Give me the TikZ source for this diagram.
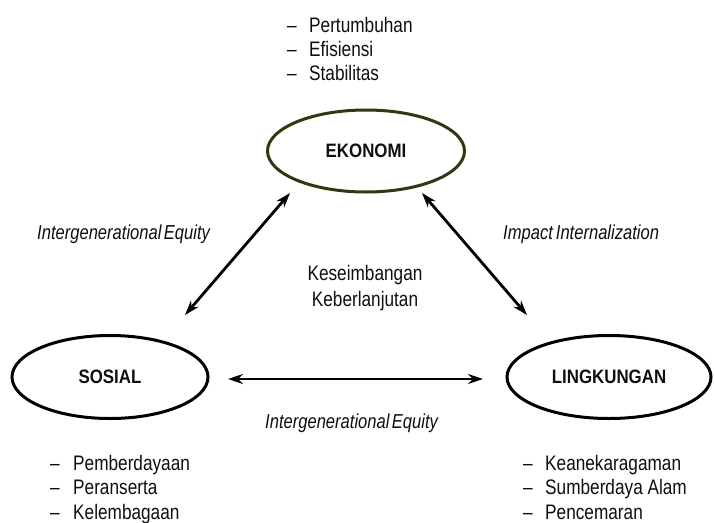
\documentclass[tikz,border=0pt]{standalone}
\usepackage{fontspec}
\setmainfont{Liberation Sans}[FakeStretch=0.82]
\newfontfamily\lblfont{Liberation Sans}[FakeStretch=0.87]
\usetikzlibrary{shapes.geometric,arrows.meta}
\definecolor{olivedark}{RGB}{55,52,18}
\definecolor{txt}{RGB}{15,15,15}
\begin{document}
\begin{tikzpicture}[x=1pt,y=-1pt,
  circ/.style={draw, ellipse, line width=3pt, inner sep=0pt, font=\lblfont\fontsize{19.4}{21}\selectfont\bfseries, text=txt},
  item/.style={anchor=base west, inner sep=0pt, font=\fontsize{21}{24}\selectfont, text=txt},
  lbl/.style={anchor=base west, inner sep=0pt, font=\fontsize{20.2}{24}\selectfont\itshape, text=txt},
  mid/.style={anchor=base, inner sep=0pt, font=\fontsize{21}{24}\selectfont, text=txt},
  link/.style={line width=2.8pt, {Stealth[length=15pt,width=10pt,inset=5pt]}-{Stealth[length=15pt,width=10pt,inset=5pt]}}
]
\useasboundingbox (0,0) rectangle (714,522);
% ellipses
\node[circ, draw=olivedark, minimum width=197pt, minimum height=82pt] (ekonomi) at (366,151) {EKONOMI};
\node[circ, minimum width=196pt, minimum height=83pt] (sosial) at (110,377) {SOSIAL};
\node[circ, minimum width=204pt, minimum height=83pt] (lingkungan) at (609,377) {LINGKUNGAN};
% arrow ends
\coordinate (ls) at (185,315);
\coordinate (le) at (290,193);
\coordinate (rs) at (422,193);
\coordinate (re) at (527,315);
\coordinate (hs) at (228,379);
\coordinate (he) at (483,379);
\draw[link] (ls) -- (le);
\draw[link] (rs) -- (re);
\draw[link] (hs) -- (he);
% top list
\node[item] (d1) at (287,32) {–};
\node[item] (t1) at (309,32) {Pertumbuhan};
\node[item] (d2) at (287,56) {–};
\node[item] (t2) at (309,56) {Efisiensi};
\node[item] (d3) at (287,80) {–};
\node[item] (t3) at (309,80) {Stabilitas};
% bottom-left list
\node[item] (d4) at (50,470) {–};
\node[item] (t4) at (73,470) {Pemberdayaan};
\node[item] (d5) at (50,494) {–};
\node[item] (t5) at (73,494) {Peranserta};
\node[item] (d6) at (50,519) {–};
\node[item] (t6) at (73,519) {Kelembagaan};
% bottom-right list
\node[item] (d7) at (523,470) {–};
\node[item] (t7) at (545,470) {Keanekaragaman};
\node[item] (d8) at (523,494) {–};
\node[item] (t8) at (545,494) {Sumberdaya Alam};
\node[item] (d9) at (523,519) {–};
\node[item] (t9) at (545,519) {Pencemaran};
% labels
\node[lbl] (ie1) at (37,239) {Intergenerational\hspace{0.12em}Equity};
\node[lbl] (ii) at (503,239) {Impact\hspace{0.15em}Internalization};
\node[lbl] (ie2) at (265,428) {Intergenerational\hspace{0.12em}Equity};
\node[mid] (k1) at (365,280) {Keseimbangan};
\node[mid] (k2) at (365,306) {Keberlanjutan};
\end{tikzpicture}
\end{document}
